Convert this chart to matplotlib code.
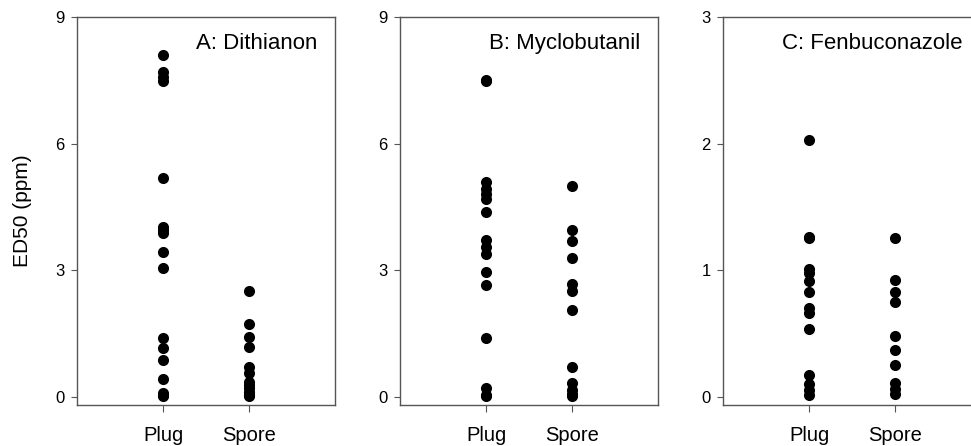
import matplotlib
matplotlib.use("Agg")
import matplotlib.pyplot as plt

plt.rcParams['font.family'] = ['Liberation Sans', 'DejaVu Sans']

groups = ["Plug", "Spore"]

# ED50 values (ppm)
dith_plug = [8.09, 7.70, 7.58, 7.48, 5.19, 4.03, 3.95, 3.88, 3.42, 3.04,
             1.38, 1.15, 0.87, 0.42, 0.08, 0.04, 0.02]
dith_spore = [2.51, 1.73, 1.42, 1.17, 0.71, 0.55, 0.35, 0.28, 0.20, 0.12,
              0.06, 0.03, 0.01]
mycl_plug = [7.50, 7.48, 5.08, 4.93, 4.81, 4.69, 4.37, 3.72, 3.55, 3.39,
             2.96, 2.64, 1.40, 0.20, 0.04, 0.01]
mycl_spore = [5.00, 3.94, 3.69, 3.29, 2.68, 2.50, 2.05, 0.71, 0.33, 0.16,
              0.05, 0.01]
fenb_plug = [2.03, 1.26, 1.25, 1.01, 0.98, 0.91, 0.83, 0.70, 0.66, 0.53,
             0.17, 0.10, 0.05, 0.01]
fenb_spore = [1.25, 0.92, 0.83, 0.75, 0.48, 0.37, 0.25, 0.11, 0.06, 0.02]

panels = [
    ("A: Dithianon", dith_plug, dith_spore, [0, 3, 6, 9], (-0.2, 9)),
    ("B: Myclobutanil", mycl_plug, mycl_spore, [0, 3, 6, 9], (-0.2, 9)),
    ("C: Fenbuconazole", fenb_plug, fenb_spore, [0, 1, 2, 3], (-0.067, 3)),
]

W, H = 971, 446
fig = plt.figure(figsize=(W / 100, H / 100), dpi=100)
lefts = [77, 400, 723]
spine_col = "#555555"

for i, (title, plug, spore, yt, yl) in enumerate(panels):
    ax = fig.add_axes([lefts[i] / W, (H - 405) / H, 258 / W, 388 / H])
    ax.plot([1] * len(plug), plug, 'o', color='black', ms=8, mec='none')
    ax.plot([2] * len(spore), spore, 'o', color='black', ms=8, mec='none')
    ax.set_xlim(0, 3)
    ax.set_ylim(*yl)
    ax.set_xticks([1, 2])
    ax.set_xticklabels(groups, fontsize=14.5)
    ax.set_yticks(yt)
    ax.tick_params(axis='y', labelsize=12, length=4, pad=5, color=spine_col)
    ax.tick_params(axis='x', length=5, pad=10, color=spine_col)
    for s in ax.spines.values():
        s.set_color(spine_col)
        s.set_linewidth(1.0)
    ax.text(0.93, 0.932, title, transform=ax.transAxes, ha='right',
            va='center', fontsize=16)
    if i == 0:
        ax.set_ylabel("ED50 (ppm)", fontsize=15)
        ax.yaxis.set_label_coords(-0.176, 0.5)

fig.savefig("out.png", dpi=100)
